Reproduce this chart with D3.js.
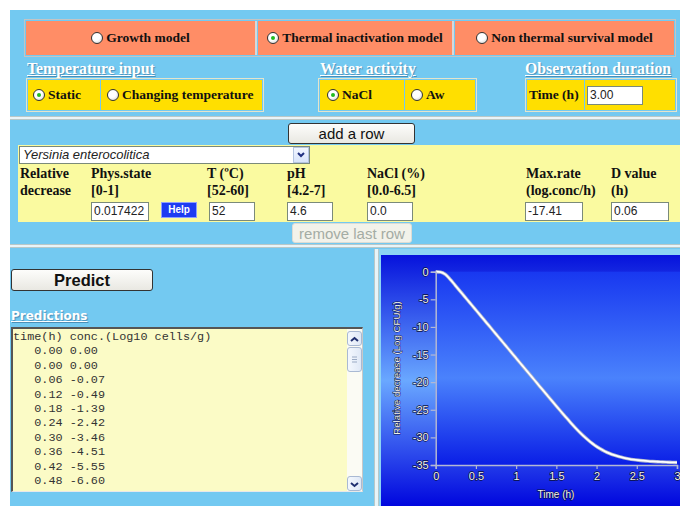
<!DOCTYPE html>
<html>
<head>
<meta charset="utf-8">
<script src="https://cdn.jsdelivr.net/npm/d3@7"></script>
<style>
body{margin:0;width:680px;height:506px;overflow:hidden;background:#fff;position:relative;font-family:"Liberation Serif",serif;}
.a{position:absolute;box-sizing:border-box;}
.cell{display:flex;align-items:center;font:bold 13.5px "Liberation Serif";color:#111;}
.rb{display:inline-block;width:12px;height:12px;border-radius:50%;border:1px solid #333;background:radial-gradient(circle at 40% 35%,#fff 45%,#c8c8c8);box-sizing:border-box;margin-right:3px;position:relative;flex:none;}
.rb.on::after{content:"";position:absolute;left:3px;top:3px;width:4px;height:4px;border-radius:50%;background:#22bb22;}
.lbl{color:#fff;font:bold 15.8px "Liberation Serif";text-decoration:underline;line-height:16px;text-shadow:1px 1px 1px #4a8fb8;white-space:nowrap;}
.hd{font:bold 14px "Liberation Serif";line-height:16px;color:#111;white-space:nowrap;}
.in{background:#fff;border:1px solid #7a8a7a;font:12px "Liberation Sans";line-height:16px;padding-left:2px;color:#222;}
.btn{border:1px solid #333;border-radius:3px;background:linear-gradient(#fdfdfb,#e9e8e2);font:15px "Liberation Sans";text-align:center;color:#111;}
.sep{height:4px;border-top:1px solid #b8c8c8;border-bottom:1px solid #b8c8c8;background:#e8f4f8;}
.sb{background:linear-gradient(90deg,#f4f8fe,#dfe8f6);border:1px solid #a9b9d3;border-radius:3px;}
</style>
</head>
<body>
<!-- page background -->
<div class="a" style="left:10px;top:10px;width:670px;height:496px;background:#73c9f1"></div>

<!-- model choice -->
<div class="a" style="left:24px;top:19px;width:652px;height:38px;border:1px solid #c4c4c4"></div>
<div class="a cell" style="left:26px;top:21px;width:231px;height:34px;background:#ff8d66;justify-content:center;border-right:2px solid #d8d8d8"><span class="rb"></span>Growth model</div>
<div class="a cell" style="left:258px;top:21px;width:196px;height:34px;background:#ff8d66;justify-content:center;border-right:2px solid #d8d8d8"><span class="rb on"></span>Thermal inactivation model</div>
<div class="a cell" style="left:455px;top:21px;width:219px;height:34px;background:#ff8d66;justify-content:center"><span class="rb"></span>Non thermal survival model</div>

<!-- second row -->
<div class="a lbl" style="left:27px;top:61px">Temperature input</div>
<div class="a lbl" style="left:320px;top:61px">Water activity</div>
<div class="a lbl" style="left:525px;top:61px">Observation duration</div>

<div class="a" style="left:26px;top:78px;width:238px;height:34px;border:1px solid #e4e4cc"></div>
<div class="a cell" style="left:28px;top:80px;width:72px;height:30px;background:#ffdf00;padding-left:5px"><span class="rb on"></span>Static</div>
<div class="a cell" style="left:101px;top:80px;width:161px;height:30px;background:#ffdf00;padding-left:6px"><span class="rb"></span>Changing temperature</div>

<div class="a" style="left:318px;top:78px;width:159px;height:34px;border:1px solid #e4e4cc"></div>
<div class="a cell" style="left:320px;top:80px;width:84px;height:30px;background:#ffdf00;padding-left:7px"><span class="rb on"></span>NaCl</div>
<div class="a cell" style="left:405px;top:80px;width:70px;height:30px;background:#ffdf00;padding-left:6px"><span class="rb"></span>Aw</div>

<div class="a" style="left:525px;top:78px;width:152px;height:34px;border:1px solid #e4e4cc"></div>
<div class="a cell" style="left:527px;top:80px;width:57px;height:30px;background:#ffdf00;padding-left:2px">Time (h)</div>
<div class="a cell" style="left:585px;top:80px;width:90px;height:30px;background:#ffdf00"></div>
<div class="a in" style="left:587px;top:86px;width:56px;height:19px">3.00</div>

<div class="a sep" style="left:10px;top:116px;width:670px"></div>

<!-- organism row -->
<div class="a btn" style="left:288px;top:123px;width:127px;height:21px;line-height:19px">add a row</div>
<div class="a" style="left:18px;top:145px;width:662px;height:77px;background:#fafaa0"></div>
<div class="a in" style="left:19px;top:146px;width:291px;height:18px;font-style:italic;font-size:13px;padding-left:3px">Yersinia enterocolitica</div>
<div class="a" style="left:293px;top:147px;width:16px;height:16px;background:linear-gradient(#f2f6ff,#d8e4fa);border:1px solid #b4c4e0">
  <svg width="14" height="14" style="position:absolute;left:0;top:0"><polyline points="4,5 7,8 10,5" fill="none" stroke="#203080" stroke-width="2"/></svg>
</div>
<div class="a hd" style="left:20px;top:166px">Relative</div>
<div class="a hd" style="left:20px;top:183px">decrease</div>
<div class="a hd" style="left:91px;top:166px">Phys.state</div>
<div class="a hd" style="left:91px;top:183px">[0-1]</div>
<div class="a hd" style="left:207px;top:166px">T (ºC)</div>
<div class="a hd" style="left:207px;top:183px">[52-60]</div>
<div class="a hd" style="left:287px;top:166px">pH</div>
<div class="a hd" style="left:287px;top:183px">[4.2-7]</div>
<div class="a hd" style="left:367px;top:166px">NaCl (%)</div>
<div class="a hd" style="left:367px;top:183px">[0.0-6.5]</div>
<div class="a hd" style="left:526px;top:166px">Max.rate</div>
<div class="a hd" style="left:526px;top:183px">(log.conc/h)</div>
<div class="a hd" style="left:611px;top:166px">D value</div>
<div class="a hd" style="left:611px;top:183px">(h)</div>

<div class="a in" style="left:91px;top:202px;width:58px;height:19px">0.017422</div>
<div class="a" style="left:161px;top:202px;width:36px;height:16px;background:#1d3cf2;border:1px solid #8ea0ff;color:#fff;font:bold 10px 'Liberation Sans';text-align:center;line-height:14px">Help</div>
<div class="a in" style="left:209px;top:202px;width:46px;height:19px">52</div>
<div class="a in" style="left:287px;top:202px;width:46px;height:19px">4.6</div>
<div class="a in" style="left:367px;top:202px;width:46px;height:19px">0.0</div>
<div class="a in" style="left:525px;top:202px;width:58px;height:19px">-17.41</div>
<div class="a in" style="left:611px;top:202px;width:58px;height:19px">0.06</div>

<div class="a btn" style="left:292px;top:223px;width:120px;height:20px;line-height:19px;color:#a4aca4;border-color:#dcdcd4;background:#f2f2ea">remove last row</div>

<div class="a sep" style="left:10px;top:244px;width:670px"></div>
<div class="a" style="left:374px;top:249px;width:5px;height:257px;border-left:1px solid #b8c8c8;border-right:1px solid #b8c8c8;background:#e8f4f8"></div>

<!-- predictions -->
<div class="a btn" style="left:11px;top:269px;width:142px;height:22px;font:bold 16.5px 'Liberation Sans';line-height:20px">Predict</div>
<div class="a" style="left:11px;top:309px;color:#fff;font:bold 12px 'DejaVu Sans';text-decoration:underline;text-shadow:1px 1px 1px #4a8fb8">Predictions</div>
<div class="a" id="out" style="left:11px;top:327px;width:352px;height:165px;background:#fbfbc6;border-top:2px solid #555;border-left:2px solid #555;border-right:1px solid #c8c8c8;border-bottom:1px solid #e8e8e8;overflow:hidden">
  <pre id="list" style="margin:0;padding:1px 0 0 0;font:11.8px 'Liberation Mono';line-height:14.4px;color:#333"></pre>
  <div class="a" style="left:334px;top:0;width:16px;height:162px;background:#fbfbf4"></div>
  <div class="a sb" style="left:334px;top:2px;width:15px;height:15px"><svg width="13" height="13"><polyline points="3,8 6.5,5 10,8" fill="none" stroke="#203070" stroke-width="2"/></svg></div>
  <div class="a sb" style="left:334px;top:18px;width:15px;height:25px"><svg width="13" height="23"><path d="M4,9h5M4,11.5h5M4,14h5" stroke="#9aaac4"/></svg></div>
  <div class="a sb" style="left:334px;top:147px;width:15px;height:15px"><svg width="13" height="13"><polyline points="3,5 6.5,8 10,5" fill="none" stroke="#203070" stroke-width="2"/></svg></div>
</div>

<div class="a" style="left:379px;top:249px;width:301px;height:257px;background:#8cd4f4"></div>
<svg id="chart" class="a" style="left:381px;top:255px" width="299" height="251"></svg>

<script>
// prediction output, time (h) and concentration (log10 cells/g)
var times = [0.00, 0.00, 0.06, 0.12, 0.18, 0.24, 0.30, 0.36, 0.42, 0.48,
  0.54, 0.60, 0.66, 0.72, 0.78, 0.84, 0.90, 0.96, 1.02, 1.08,
  1.14, 1.20, 1.26, 1.32, 1.38, 1.44, 1.50, 1.56, 1.62, 1.68,
  1.74, 1.80, 1.86, 1.92, 1.98, 2.04, 2.10, 2.16, 2.22, 2.28,
  2.34, 2.40, 2.46, 2.52, 2.58, 2.64, 2.70, 2.76, 2.82, 2.88,
  2.94, 3.00];
var conc = [0.00, 0.00, -0.07, -0.49, -1.39, -2.42, -3.46, -4.51, -5.55, -6.60,
  -7.64, -8.69, -9.73, -10.78, -11.82, -12.87, -13.91, -14.96, -16.00, -17.05,
  -18.09, -19.14, -20.18, -21.23, -22.27, -23.31, -24.34, -25.36, -26.37, -27.36,
  -28.31, -29.21, -30.04, -30.79, -31.45, -32.02, -32.50, -32.90, -33.23, -33.50,
  -33.71, -33.88, -34.02, -34.13, -34.22, -34.30, -34.36, -34.41, -34.45, -34.49,
  -34.52, -34.55];

var xTicks = [0, 0.5, 1, 1.5, 2, 2.5, 3];
var xTickLabels = ['0', '0.5', '1', '1.5', '2', '2.5', '3'];
var yTicks = [0, -5, -10, -15, -20, -25, -30, -35];
var yTickLabels = ['0', '-5', '-10', '-15', '-20', '-25', '-30', '-35'];
var listHeader = 'time(h) conc.(Log10 cells/g)';
var listRows = 10; // rows visible in the textarea

// text output
var lines = [listHeader];
for (var i = 0; i < listRows; i++) {
  lines.push('   ' + times[i].toFixed(2) + ' ' + conc[i].toFixed(2));
}
d3.select('#list').text(lines.join('\n'));

// chart
var svg = d3.select('#chart');
var W = 299, H = 251;
var x = d3.scaleLinear().domain([0, 3]).range([54.7, 296]);
var y = d3.scaleLinear().domain([-35, 0]).range([210, 16.7]);

var defs = svg.append('defs');
var bg = defs.append('linearGradient').attr('id', 'bg').attr('x1', 0).attr('x2', 0).attr('y1', 0).attr('y2', 1);
bg.append('stop').attr('offset', '0%').attr('stop-color', '#0612dc');
bg.append('stop').attr('offset', '50%').attr('stop-color', '#6aa8ff');
bg.append('stop').attr('offset', '100%').attr('stop-color', '#0006de');
var pg = defs.append('linearGradient').attr('id', 'pg').attr('x1', 0).attr('x2', 0).attr('y1', 0).attr('y2', 1);
pg.append('stop').attr('offset', '0%').attr('stop-color', '#1838f0');
pg.append('stop').attr('offset', '55%').attr('stop-color', '#4a82fc');
pg.append('stop').attr('offset', '100%').attr('stop-color', '#0a1ee6');

svg.append('rect').attr('width', W).attr('height', H).attr('fill', 'url(#bg)');
svg.append('rect')
  .attr('x', x(0)).attr('y', y(0))
  .attr('width', W - x(0)).attr('height', y(-35) - y(0))
  .attr('fill', 'url(#pg)');

var line = d3.line()
  .x(function(d, i) { return x(times[i]); })
  .y(function(d) { return y(d); })
  .curve(d3.curveMonotoneX);

svg.append('path').datum(conc)
  .attr('d', line).attr('fill', 'none')
  .attr('stroke', '#a8b0c8').attr('stroke-width', 3.4);
svg.append('path').datum(conc)
  .attr('d', line).attr('fill', 'none')
  .attr('stroke', '#ffffff').attr('stroke-width', 1.8);

function styleAxis(g) {
  g.select('.domain').attr('stroke', '#b4b8d4').attr('stroke-width', 1.5);
  g.selectAll('.tick line').attr('stroke', '#b4b8d4').attr('stroke-width', 1.2);
  g.selectAll('.tick text')
    .attr('fill', '#f2f2f2')
    .attr('stroke', '#0a1040').attr('stroke-width', 1.3)
    .attr('paint-order', 'stroke')
    .style('font-family', 'Liberation Sans').style('font-size', '11px');
}

svg.append('g')
  .attr('transform', 'translate(' + x(0) + ',0)')
  .call(d3.axisLeft(y).tickValues(yTicks).tickSize(5).tickPadding(2)
    .tickFormat(function(d, i) { return yTickLabels[i]; }))
  .call(styleAxis);

svg.append('g')
  .attr('transform', 'translate(0,' + y(-35) + ')')
  .call(d3.axisBottom(x).tickValues(xTicks).tickSize(4).tickPadding(3)
    .tickFormat(function(d, i) { return xTickLabels[i]; }))
  .call(styleAxis);

svg.append('text')
  .attr('x', 175).attr('y', 243)
  .attr('text-anchor', 'middle')
  .attr('fill', '#f2f2f2').attr('stroke', '#0a1040').attr('stroke-width', 1.1).attr('paint-order', 'stroke')
  .style('font-family', 'Liberation Sans').style('font-size', '10px')
  .text('Time (h)');

svg.append('text')
  .attr('transform', 'translate(18.5,' + 113 + ') rotate(-90)')
  .attr('text-anchor', 'middle')
  .attr('fill', '#f2f2f2').attr('stroke', '#0a1040').attr('stroke-width', 1).attr('paint-order', 'stroke')
  .style('font-family', 'Liberation Sans').style('font-size', '9.7px')
  .text('Relative decrease (Log CFU/g)');
</script>
</body>
</html>
